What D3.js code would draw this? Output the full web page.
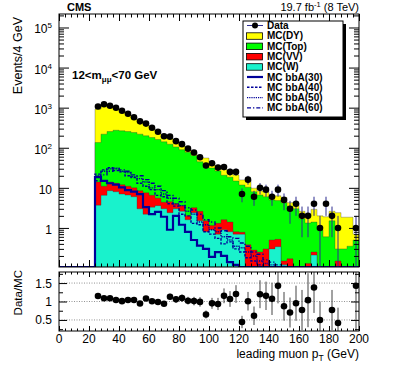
<!DOCTYPE html>
<meta charset="utf-8">
<script src="https://d3js.org/d3.v7.min.js"></script>
<style>
  body { margin: 0; background: white; }
  svg text { font-family: "Liberation Sans", Arial, Helvetica, sans-serif; fill: black; }
</style>
<div id="my_dataviz"></div>
<script>
// bin lower edges (4 GeV bins)
var ptLow = [24,28,32,36,40,44,48,52,56,60,64,68,72,76,80,84,88,92,96,100,104,108,112,116,
             120,124,128,132,136,140,144,148,152,156,160,164,168,172,176,180,184,188,192,196];

var data = [1065,1216,1114,995,837,705,577,455,400,316, 251,194,189,146,123,95,76,58,36,41,
            32,33,25,25,7,16,6,10,9,6, 9,5,3,4,2,2,4,1,4,2, 1,0,0,1];

var mcDY  = [791,898,768,684,565,424,315,262,172,133, 94,66,45,33,23,16,11,14,19,12,
             8,8,5,6,4,5.5,1.8,1.7,1.8,0.6, 1.5,1.5,0.8,1.2,0.9,0.6,1.5,1.1,1.3,1.1, 2.1,1.55,1.5,0.2];
var mcTop = [121,207,240,260,252,243,230,210,191,174, 155,136,118,101,86,75,61,42,35,30,
             25,19,17,14,11,10,7.7,6.4,5.7,4.5, 4.3,4.1,3.3,3.0,1.7,1.2,1.15,0.9,0.6,1.5, 0.15,0.3,0.35,0.5];
var mcVV  = [10.3,4.5,5.5,5.0,5.0,4.4,4.0,5.5,5.3,3.2, 1.9,1.4,2.1,1.0,1.0,0.4,0.8,1.1,0.7,0.25,
             0.6,0.7,0.6,0.1,0.08,0.38,0.28,0.25,0.3,0.2, 0.18,0.03,0.17,0,0,0.03,0.04,0,0,0, 0.15,0,0,0];
var mcW   = [3.7,6.5,8.5,8.0,7.0,6.6,6.0,3.0,2.2,3.3, 3.6,3.0,2.4,3.0,2.6,1.6,2.4,1.5,0.8,0.9,
             0.7,0.9,0.8,0.7,0.7,0,0,0,0,0.3, 0.34,0.12,0,0,0,0.1,0.21,0,0,0, 0,0,0,0];

var bbA30 = [18.5,15,13,12,10.3,8.8,8,7,3.3,2.2, 2.5,1.9,0.9,2.0,1.2,0.8,0.5,0.36,0.3,0.19,
             0.25,0.2,0.14,0.12,0,0,0,0,0,0, 0,0,0,0,0,0,0,0,0,0, 0,0,0,0];
var bbA40 = [22,28,32,27,25,20,18,13,11,9, 6.5,6,4,3.5,2.2,2,1.3,1.2,0.8,0.7,
             0.55,0.4,0.45,0.3,0.25,0.18,0.15,0.12,0,0, 0,0,0,0,0,0,0,0,0,0, 0,0,0,0];
var bbA50 = [20,26,30,31,26,24,19,17,14,10, 9,7,5.5,4,3.6,2.6,2.2,1.4,1.2,0.9,
             0.8,0.6,0.5,0.35,0.32,0.25,0.2,0.15,0.13,0.12, 0,0,0,0,0,0,0,0,0,0, 0,0,0,0];
var bbA60 = [15,21,26,30,28,26,21,20,16,13, 11,8.5,6.5,5.5,4.5,3.2,2.8,2.2,1.6,1.4,
             1.0,0.85,0.6,0.55,0.42,0.35,0.25,0.22,0.16,0.14, 0.12,0.11,0,0,0,0,0,0,0,0, 0,0,0,0];

var xTicks = [0,20,40,60,80,100,120,140,160,180,200];
var yTicks = [1,10,100,1000,10000,100000];
var rTicks = [0.5,1,1.5];

var binW = 4;
var W = 399, H = 383;

var svg = d3.select("#my_dataviz").append("svg")
    .attr("width", W).attr("height", H);

// scales
var x = d3.scaleLinear().domain([0, 200]).range([59, 359]);
var y = d3.scaleLog().domain([0.106, 2.17e5]).range([267, 14]).clamp(true);
var yr = d3.scaleLinear().domain([0.2, 1.8]).range([331, 272]);

var yBot = y.range()[0];
function yv(v) { return y(Math.max(v, 1e-4)); }

// stacked sums
var s1 = mcW.slice();
var s2 = s1.map(function(v, i) { return v + mcVV[i]; });
var s3 = s2.map(function(v, i) { return v + mcTop[i]; });
var s4 = s3.map(function(v, i) { return v + mcDY[i]; });

function stepArea(vals) {
  var p = d3.path();
  p.moveTo(x(ptLow[0]), yBot);
  vals.forEach(function(v, i) {
    p.lineTo(x(ptLow[i]), yv(v));
    p.lineTo(x(ptLow[i] + binW), yv(v));
  });
  p.lineTo(x(ptLow[ptLow.length - 1] + binW), yBot);
  p.closePath();
  return p.toString();
}
function stepLine(vals) {
  var p = d3.path();
  p.moveTo(x(0), yBot);
  p.lineTo(x(ptLow[0]), yBot);
  vals.forEach(function(v, i) {
    p.lineTo(x(ptLow[i]), yv(v));
    p.lineTo(x(ptLow[i] + binW), yv(v));
  });
  return p.toString();
}

svg.append("clipPath").attr("id", "clipMain")
  .append("rect").attr("x", 59).attr("y", 14).attr("width", 300).attr("height", 253);
svg.append("clipPath").attr("id", "clipRatio")
  .append("rect").attr("x", 59).attr("y", 272).attr("width", 300).attr("height", 59);

var main = svg.append("g").attr("clip-path", "url(#clipMain)");

var stacks = [
  { vals: s4, color: "#ffff00" },
  { vals: s3, color: "#00ff00" },
  { vals: s2, color: "#ff0000" },
  { vals: s1, color: "#19f2cc" }
];
main.selectAll("path.stack").data(stacks).enter().append("path")
  .attr("class", "stack")
  .attr("d", function(d) { return stepArea(d.vals); })
  .style("fill", function(d) { return d.color; })
  .style("stroke", "#333")
  .style("stroke-opacity", 0.55)
  .style("stroke-width", 0.6);

// signal histograms
var signals = [
  { vals: bbA60, dash: "4,2,1.3,2", w: 1.4 },
  { vals: bbA50, dash: "1.2,1", w: 1.4 },
  { vals: bbA40, dash: "2.5,1.5", w: 1.4 },
  { vals: bbA30, dash: null, w: 2.2 }
];
main.selectAll("path.sig").data(signals).enter().append("path")
  .attr("class", "sig")
  .attr("d", function(d) { return stepLine(d.vals); })
  .style("fill", "none")
  .style("stroke", "#000099")
  .style("stroke-width", function(d) { return d.w; })
  .style("stroke-dasharray", function(d) { return d.dash; });

// data points with Poisson errors
var pts = data.map(function(n, i) {
  return { c: ptLow[i] + binW / 2, n: n, mc: s4[i] };
}).filter(function(d) { return d.n > 0; });

main.selectAll("line.err").data(pts).enter().append("line")
  .attr("x1", function(d) { return x(d.c); })
  .attr("x2", function(d) { return x(d.c); })
  .attr("y1", function(d) { return yv(d.n - Math.sqrt(d.n)); })
  .attr("y2", function(d) { return yv(d.n + Math.sqrt(d.n)); })
  .style("stroke", "#2d2d8f").style("stroke-width", 1);
main.selectAll("circle.dot").data(pts).enter().append("circle")
  .attr("cx", function(d) { return x(d.c); })
  .attr("cy", function(d) { return yv(d.n); })
  .attr("r", 3.3).style("fill", "black");

// ratio panel
var ratio = svg.append("g").attr("clip-path", "url(#clipRatio)");
ratio.selectAll("line.grid").data(rTicks).enter().append("line")
  .attr("x1", 59).attr("x2", 359)
  .attr("y1", function(d) { return yr(d); }).attr("y2", function(d) { return yr(d); })
  .style("stroke", "#777").style("stroke-width", 0.8).style("stroke-dasharray", "1,1.5");

var rpts = pts.map(function(d) {
  return { c: d.c, r: d.n / d.mc, e: Math.sqrt(d.n) / d.mc };
}).filter(function(d) { return d.r <= 1.8 && d.r >= 0.2; });

ratio.selectAll("line.rerr").data(rpts).enter().append("line")
  .attr("x1", function(d) { return x(d.c); })
  .attr("x2", function(d) { return x(d.c); })
  .attr("y1", function(d) { return yr(d.r - d.e); })
  .attr("y2", function(d) { return yr(d.r + d.e); })
  .style("stroke", "#444").style("stroke-width", 1);
ratio.selectAll("circle.rdot").data(rpts).enter().append("circle")
  .attr("cx", function(d) { return x(d.c); })
  .attr("cy", function(d) { return yr(d.r); })
  .attr("r", 3.3).style("fill", "black");

// frames
svg.append("rect").attr("x", 59).attr("y", 14).attr("width", 300).attr("height", 253)
  .style("fill", "none").style("stroke", "black").style("stroke-width", 1);
svg.append("rect").attr("x", 59).attr("y", 272).attr("width", 300).attr("height", 59)
  .style("fill", "none").style("stroke", "black").style("stroke-width", 1);

// ticks
var xMinor = d3.range(0, 201, 4);
function tickAxis(axis, transform) {
  var g = svg.append("g").attr("transform", transform).call(axis);
  g.select(".domain").remove();
  g.selectAll("text").remove();
  g.selectAll("line").style("stroke", "black");
  return g;
}
// main panel x ticks
tickAxis(d3.axisBottom(x).tickValues(xTicks).tickSize(-7), "translate(0,267)");
tickAxis(d3.axisBottom(x).tickValues(xMinor).tickSize(-3.5), "translate(0,267)");
tickAxis(d3.axisTop(x).tickValues(xTicks).tickSize(-7), "translate(0,14)");
tickAxis(d3.axisTop(x).tickValues(xMinor).tickSize(-3.5), "translate(0,14)");
// ratio panel x ticks
tickAxis(d3.axisBottom(x).tickValues(xTicks).tickSize(-5), "translate(0,331)");
tickAxis(d3.axisBottom(x).tickValues(xMinor).tickSize(-2.5), "translate(0,331)");
tickAxis(d3.axisTop(x).tickValues(xTicks).tickSize(-5), "translate(0,272)");
tickAxis(d3.axisTop(x).tickValues(xMinor).tickSize(-2.5), "translate(0,272)");

// log y ticks
var yMinor = [];
[0.1, 1, 10, 100, 1000, 10000, 100000].forEach(function(dec) {
  for (var k = 2; k <= 9; k++) {
    var v = dec * k;
    if (v > y.domain()[0] && v < y.domain()[1]) yMinor.push(v);
  }
});
tickAxis(d3.axisLeft(y).tickValues(yTicks).tickSize(-10), "translate(59,0)");
tickAxis(d3.axisLeft(y).tickValues(yMinor).tickSize(-5), "translate(59,0)");
tickAxis(d3.axisRight(y).tickValues(yTicks).tickSize(-10), "translate(359,0)");
tickAxis(d3.axisRight(y).tickValues(yMinor).tickSize(-5), "translate(359,0)");

// ratio y ticks
var rMinor = [0.25, 0.75, 1.25, 1.75];
tickAxis(d3.axisLeft(yr).tickValues(rTicks).tickSize(-8), "translate(59,0)");
tickAxis(d3.axisLeft(yr).tickValues(rMinor).tickSize(-4), "translate(59,0)");
tickAxis(d3.axisRight(yr).tickValues(rTicks).tickSize(-8), "translate(359,0)");
tickAxis(d3.axisRight(yr).tickValues(rMinor).tickSize(-4), "translate(359,0)");

// tick labels
svg.selectAll("text.xl").data(xTicks).enter().append("text")
  .attr("x", function(d) { return x(d); }).attr("y", 343)
  .attr("text-anchor", "middle").style("font-size", "12px")
  .text(function(d) { return d; });

svg.selectAll("text.yl").data(yTicks).enter().append("text")
  .attr("x", 52).attr("y", function(d) { return y(d) + 6; })
  .attr("text-anchor", "end").style("font-size", "12px")
  .each(function(d) {
    var t = d3.select(this);
    var e = Math.round(Math.log10(d));
    if (e === 0) t.text("1");
    else if (e === 1) t.text("10");
    else {
      t.append("tspan").text("10");
      t.append("tspan").attr("dy", -5).style("font-size", "8px").text(e);
    }
  });

svg.selectAll("text.rl").data(rTicks).enter().append("text")
  .attr("x", 52).attr("y", function(d) { return yr(d) + 4.5; })
  .attr("text-anchor", "end").style("font-size", "12px")
  .text(function(d) { return d; });

// titles
svg.append("text").attr("transform", "translate(22,17) rotate(-90)")
  .attr("text-anchor", "end").style("font-size", "12.5px").text("Events/4 GeV");
svg.append("text").attr("transform", "translate(22,270) rotate(-90)")
  .attr("text-anchor", "end").style("font-size", "11.5px").text("Data/MC");

var xt = svg.append("text").attr("x", 359).attr("y", 358)
  .attr("text-anchor", "end").style("font-size", "12px");
xt.append("tspan").text("leading muon p");
xt.append("tspan").attr("dy", 3).style("font-size", "8.5px").text("T");
xt.append("tspan").attr("dy", -3).text(" (GeV)");

svg.append("text").attr("x", 67).attr("y", 11)
  .style("font-size", "11px").style("font-weight", "bold").text("CMS");

var lumi = svg.append("text").attr("x", 359).attr("y", 11)
  .attr("text-anchor", "end").style("font-size", "11px");
lumi.append("tspan").text("19.7 fb");
lumi.append("tspan").attr("dy", -4).style("font-size", "7.5px").text("-1");
lumi.append("tspan").attr("dy", 4).text(" (8 TeV)");

var cut = svg.append("text").attr("x", 72).attr("y", 79)
  .style("font-size", "11.5px").style("font-weight", "bold");
cut.append("tspan").text("12<m");
cut.append("tspan").attr("dy", 3).style("font-size", "8px").text("\u03bc\u03bc");
cut.append("tspan").attr("dy", -3).text("<70 GeV");

// legend
var leg = svg.append("g");
leg.append("rect").attr("x", 246).attr("y", 24).attr("width", 100).attr("height", 96)
  .style("fill", "black");
leg.append("rect").attr("x", 243).attr("y", 21).attr("width", 100).attr("height", 96)
  .style("fill", "white").style("stroke", "black").style("stroke-width", 1);

var legItems = [
  { label: "Data", type: "data" },
  { label: "MC(DY)", type: "box", color: "#ffff00" },
  { label: "MC(Top)", type: "box", color: "#00ff00" },
  { label: "MC(VV)", type: "box", color: "#ff0000" },
  { label: "MC(W)", type: "box", color: "#19f2cc" },
  { label: "MC bbA(30)", type: "line", dash: null, w: 2.2 },
  { label: "MC bbA(40)", type: "line", dash: "2.5,1.5", w: 1.4 },
  { label: "MC bbA(50)", type: "line", dash: "1.2,1", w: 1.4 },
  { label: "MC bbA(60)", type: "line", dash: "4,2,1.3,2", w: 1.4 }
];
var row = leg.selectAll("g.item").data(legItems).enter().append("g")
  .attr("transform", function(d, i) { return "translate(0," + (25.5 + i * 10.3) + ")"; });
row.append("text").attr("x", 267).attr("y", 3.5)
  .style("font-size", "10px").style("font-weight", "bold")
  .text(function(d) { return d.label; });
row.filter(function(d) { return d.type === "box"; }).append("rect")
  .attr("x", 246.5).attr("y", -3).attr("width", 16).attr("height", 6.5)
  .style("fill", function(d) { return d.color; })
  .style("stroke", "black").style("stroke-width", 0.8);
row.filter(function(d) { return d.type === "line"; }).append("line")
  .attr("x1", 247).attr("x2", 263).attr("y1", 0).attr("y2", 0)
  .style("stroke", "#000099")
  .style("stroke-width", function(d) { return d.w; })
  .style("stroke-dasharray", function(d) { return d.dash; });
var dl = row.filter(function(d) { return d.type === "data"; });
dl.append("line").attr("x1", 247).attr("x2", 263).attr("y1", 0).attr("y2", 0)
  .style("stroke", "#2d2d8f").style("stroke-width", 1);
dl.append("circle").attr("cx", 255).attr("cy", 0).attr("r", 3).style("fill", "black");
</script>
